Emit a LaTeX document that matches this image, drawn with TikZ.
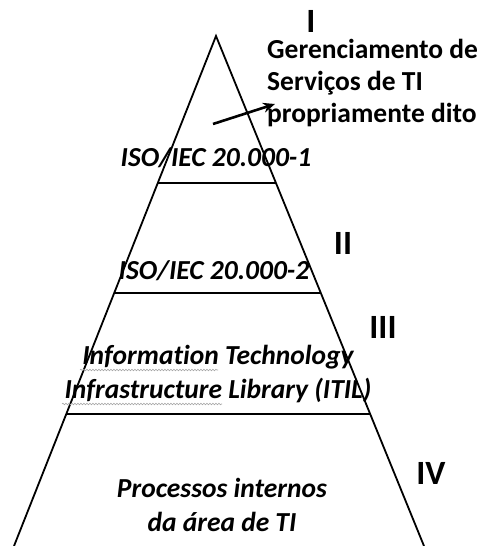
\documentclass[tikz,border=0pt]{standalone}
\usepackage{fontspec}
\setmainfont{Carlito}[Ligatures=NoCommon]
\usetikzlibrary{calc,arrows.meta,decorations.pathmorphing}

\tikzset{
    tier/.style={line width=2.4pt},
    side/.style={line width=1.8pt},
    level/.style={font=\bfseries\itshape\fontsize{27.5}{34}\selectfont, align=center, inner sep=0pt},
    numeral/.style={font=\bfseries\fontsize{34}{34}\selectfont, inner sep=0pt},
    squiggle/.style={gray!70, line width=0.6pt, decorate, decoration={snake, amplitude=0.8pt, segment length=3pt}}
}

\begin{document}
\begin{tikzpicture}[x=1pt,y=-1pt]
        \useasboundingbox (0,0) rectangle (482,546);

        \coordinate (apex) at (216,36);
        \coordinate (bl) at (14,546);
        \coordinate (br) at (424,546);

        % pyramid sides
        \draw[side] (bl) -- (apex) -- (br);

        % horizontal dividers between the levels
        \foreach \t in {0.288,0.504,0.741}
            \draw[tier] ($(apex)!\t!(bl)$) -- ($(apex)!\t!(br)$);

        % level texts
        \node[level] (iso1) at (216,158) {ISO/IEC 20.000-1};
        \node[level] (iso2) at (214,271) {ISO/IEC 20.000-2};
        \node[level] (itil) at (218,374) {Information Technology\\Infrastructure Library (ITIL)};
        \node[level] (proc) at (222,505) {Processos internos\\da área de TI};

        % spell-check underlines
        \draw[squiggle] (80,370) -- (218,370);
        \draw[squiggle] (62,404) -- (222,404);

        % roman numerals
        \node[numeral] (n1) at (311,21) {I};
        \node[numeral] (n2) at (343,243) {II};
        \node[numeral] (n3) at (383,327) {III};
        \node[numeral] (n4) at (431,473) {IV};

        % top level note
        \node[font=\bfseries\fontsize{27.5}{32}\selectfont, align=left, inner sep=0pt, anchor=base west] (gsti) at (267,122)
            {Gerenciamento de\\Serviços de TI\\propriamente dito};
        \coordinate (tail) at (213,124);
        \draw[line width=2.6pt, -{Stealth[length=12pt,width=10pt]}] (tail) -- (275,104);
\end{tikzpicture}
\end{document}
